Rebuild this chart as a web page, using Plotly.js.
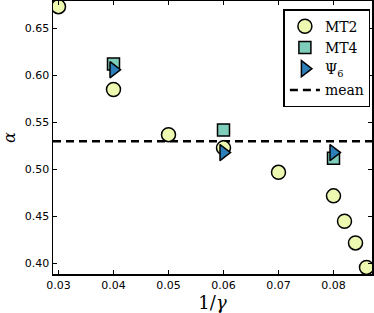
<!DOCTYPE html>
<html>
<head>
<meta charset="utf-8">
<script src="https://cdn.plot.ly/plotly-3.0.1.min.js"></script>
<style>html,body{margin:0;padding:0;background:#fff;}#chart{width:374px;height:313px;}</style>
</head>
<body>
<div id="chart"></div>
<script>
const mt2X = [0.03, 0.04, 0.05, 0.06, 0.07, 0.08, 0.082, 0.084, 0.086];
const mt2Y = [0.673, 0.585, 0.537, 0.523, 0.497, 0.472, 0.445, 0.422, 0.396];
const mt4X = [0.04, 0.06, 0.08];
const mt4Y = [0.612, 0.542, 0.512];
const psiX = [0.04, 0.06, 0.08];
const psiY = [0.606, 0.518, 0.518];
const meanValue = 0.530;
const xRange = [0.029, 0.087];
const yRange = [0.389, 0.679];
const xTicks = [0.03, 0.04, 0.05, 0.06, 0.07, 0.08];
const yTicks = [0.40, 0.45, 0.50, 0.55, 0.60, 0.65];

const edge = {color: '#000', width: 1.5};
const traces = [
  {x: xRange, y: [meanValue, meanValue], mode: 'lines', name: 'mean', legendrank: 4,
   line: {color: '#000', width: 2.5, dash: '8px,5px'}},
  {x: mt2X, y: mt2Y, mode: 'markers', name: 'MT2', legendrank: 1,
   marker: {symbol: 'circle', size: 14, color: '#edf8b1', line: edge}},
  {x: mt4X, y: mt4Y, mode: 'markers', name: 'MT4', legendrank: 2,
   marker: {symbol: 'square', size: 12, color: '#7fcdbb', line: edge}},
  {x: psiX, y: psiY, mode: 'markers', name: 'Ψ<sub>6</sub>', legendrank: 3,
   marker: {symbol: 'triangle-right', size: 14, color: '#2c7fb8', line: edge}}
];

const axisCommon = {
  showgrid: false, zeroline: false, showline: true, linecolor: '#000', linewidth: 1.5,
  mirror: 'allticks', ticks: 'inside', ticklen: 4, tickwidth: 1, tickcolor: '#000',
  tickfont: {family: 'DejaVu Sans', size: 11, color: '#000'}
};

const layout = {
  width: 374, height: 313,
  margin: {l: 53, r: 2, t: 1, b: 39},
  paper_bgcolor: '#fff', plot_bgcolor: '#fff',
  xaxis: Object.assign({}, axisCommon, {
    range: xRange, tickvals: xTicks, ticktext: xTicks.map(v => v.toFixed(2)),
    title: {text: '1/<i>γ</i>', font: {family: 'DejaVu Serif', size: 18, color: '#000'}, standoff: 4}
  }),
  yaxis: Object.assign({}, axisCommon, {
    range: yRange, tickvals: yTicks, ticktext: yTicks.map(v => v.toFixed(2)),
    title: {text: '<i>α</i>', font: {family: 'DejaVu Serif', size: 16, color: '#000'}, standoff: 8}
  }),
  showlegend: true,
  legend: {
    x: 0.995, y: 0.97, xanchor: 'right', yanchor: 'top',
    bgcolor: '#fff', bordercolor: '#000', borderwidth: 1.5,
    font: {family: 'DejaVu Serif', size: 14, color: '#000'},
    itemwidth: 30, tracegroupgap: 0
  }
};

Plotly.newPlot('chart', traces, layout, {displayModeBar: false, staticPlot: true});
</script>
</body>
</html>
